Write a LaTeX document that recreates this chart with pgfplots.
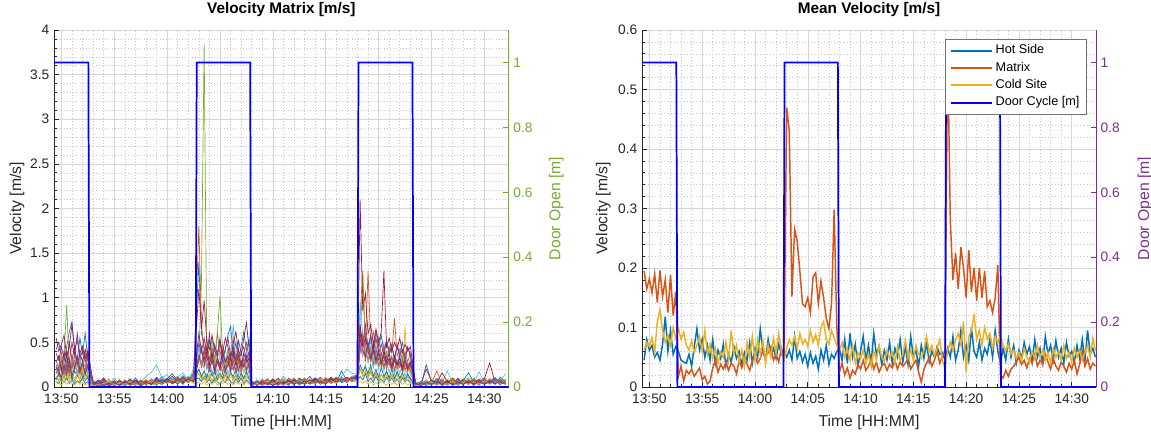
\documentclass[border=0pt]{standalone}
\usepackage{fontspec}
\setmainfont{Liberation Sans}
\usepackage{pgfplots}
\usepackage{pgfplotstable}
\pgfplotsset{compat=1.18}

\definecolor{mlc1}{RGB}{0,114,189}
\definecolor{mlc2}{RGB}{217,83,25}
\definecolor{mlc3}{RGB}{237,177,32}
\definecolor{mlc4}{RGB}{126,47,142}
\definecolor{mlc5}{RGB}{119,172,48}
\definecolor{mlc6}{RGB}{77,190,238}
\definecolor{mlc7}{RGB}{162,20,47}
\definecolor{mlgray}{RGB}{38,38,38}
\definecolor{doorblue}{RGB}{0,0,255}

% velocity of every sensor in the matrix [m/s], time in minutes after 13:50
\pgfplotstableread{
t s1 s2 s3 s4 s5 s6 s7 s8 s9 s10 s11 s12
-0.5 0.42 0.30 0.12 0.25 0.15 0.30 0.55 0.06 0.22 0.03 0.38 0.10
-0.25 0.50 0.22 0.08 0.18 0.22 0.20 0.40 0.04 0.15 0.05 0.30 0.14
0.0 0.35 0.38 0.15 0.30 0.10 0.35 0.48 0.09 0.25 0.02 0.45 0.06
0.25 0.28 0.25 0.10 0.20 0.35 0.25 0.58 0.05 0.18 0.06 0.32 0.12
0.5 0.45 0.18 0.18 0.35 0.92 0.30 0.35 0.10 0.28 0.03 0.40 0.08
0.75 0.62 0.32 0.07 0.15 0.20 0.18 0.45 0.04 0.12 0.07 0.28 0.15
1.0 0.73 0.20 0.14 0.28 0.12 0.28 0.70 0.08 0.22 0.04 0.50 0.10
1.25 0.40 0.35 0.09 0.22 0.25 0.36 0.42 0.03 0.30 0.02 0.35 0.05
1.5 0.30 0.28 0.16 0.32 0.15 0.22 0.52 0.07 0.16 0.06 0.60 0.13
1.75 0.55 0.15 0.06 0.18 0.28 0.30 0.38 0.05 0.24 0.03 0.30 0.09
2.0 0.38 0.30 0.12 0.25 0.18 0.20 0.45 0.10 0.14 0.05 0.42 0.16
2.25 0.60 0.22 0.08 0.14 0.40 0.26 0.32 0.04 0.20 0.02 0.28 0.07
2.5 0.32 0.42 0.13 0.22 0.12 0.18 0.40 0.06 0.26 0.04 0.36 0.11
3.0 0.06 0.04 0.03 0.02 0.05 0.08 0.03 0.01 0.04 0.02 0.05 0.03
3.5 0.03 0.07 0.02 0.05 0.02 0.04 0.08 0.02 0.01 0.03 0.02 0.06
4.0 0.09 0.02 0.04 0.10 0.04 0.06 0.02 0.05 0.03 0.01 0.08 0.02
4.5 0.02 0.05 0.01 0.03 0.09 0.03 0.06 0.01 0.07 0.03 0.02 0.05
5.0 0.07 0.03 0.05 0.02 0.03 0.10 0.01 0.04 0.02 0.05 0.04 0.02
5.5 0.02 0.08 0.02 0.06 0.05 0.03 0.07 0.02 0.08 0.01 0.06 0.03
6.0 0.05 0.02 0.07 0.03 0.01 0.06 0.04 0.08 0.03 0.04 0.02 0.07
6.5 0.04 0.06 0.02 0.08 0.06 0.02 0.09 0.03 0.05 0.02 0.08 0.02
7.0 0.10 0.03 0.05 0.02 0.04 0.07 0.03 0.06 0.02 0.07 0.03 0.05
7.5 0.03 0.07 0.03 0.05 0.02 0.05 0.06 0.01 0.08 0.04 0.06 0.03
8.0 0.07 0.04 0.08 0.03 0.07 0.12 0.03 0.06 0.04 0.02 0.05 0.08
8.5 0.04 0.09 0.02 0.07 0.05 0.16 0.08 0.03 0.06 0.05 0.03 0.04
9.0 0.11 0.03 0.06 0.05 0.03 0.25 0.05 0.09 0.04 0.07 0.10 0.02
9.5 0.05 0.07 0.04 0.09 0.08 0.10 0.03 0.06 0.11 0.03 0.06 0.07
10.0 0.09 0.05 0.09 0.04 0.06 0.14 0.07 0.10 0.05 0.06 0.08 0.04
10.5 0.15 0.08 0.03 0.07 0.10 0.06 0.12 0.04 0.08 0.05 0.04 0.09
11.0 0.06 0.12 0.07 0.10 0.04 0.11 0.05 0.08 0.03 0.10 0.07 0.06
11.5 0.12 0.04 0.06 0.08 0.08 0.16 0.10 0.03 0.10 0.06 0.11 0.05
12.0 0.08 0.10 0.10 0.05 0.12 0.07 0.06 0.11 0.07 0.08 0.05 0.10
12.5 0.16 0.07 0.05 0.12 0.06 0.20 0.14 0.08 0.10 0.04 0.09 0.07
13.0 1.40 1.80 0.15 0.35 0.30 0.50 1.10 0.10 0.35 0.05 0.48 0.20
13.25 0.60 0.70 0.10 0.25 1.20 0.38 0.65 0.06 0.28 0.03 0.40 0.12
13.5 0.45 0.40 0.18 0.42 3.85 0.30 0.97 0.12 0.22 0.06 0.55 0.08
13.75 0.38 0.55 0.08 0.20 0.40 0.45 0.50 0.05 0.40 0.02 0.35 0.15
14.0 0.52 0.30 0.14 0.30 0.25 0.28 0.42 0.09 0.18 0.05 0.60 0.10
14.25 0.30 0.45 0.06 0.38 0.55 0.35 0.58 0.04 0.30 0.03 0.30 0.18
14.5 0.48 0.25 0.12 0.18 0.30 0.22 0.40 0.10 0.20 0.07 0.45 0.06
14.75 0.35 0.62 0.20 0.32 0.60 0.40 0.35 0.06 0.33 0.02 0.38 0.12
15.0 0.55 0.35 0.09 0.25 1.02 0.30 0.52 0.03 0.25 0.05 0.50 0.15
15.25 0.28 0.48 0.15 0.40 0.35 0.25 0.38 0.08 0.15 0.04 0.32 0.09
15.5 0.42 0.30 0.07 0.22 0.20 0.42 0.55 0.05 0.28 0.06 0.42 0.14
15.75 0.58 0.22 0.12 0.30 0.42 0.28 0.45 0.11 0.35 0.03 0.55 0.07
16.0 0.68 0.40 0.18 0.15 0.25 0.35 0.30 0.06 0.20 0.05 0.35 0.16
16.25 0.35 0.55 0.08 0.35 0.32 0.70 0.48 0.04 0.30 0.02 0.45 0.10
16.5 0.50 0.28 0.14 0.25 0.18 0.30 0.62 0.09 0.18 0.06 0.30 0.13
16.75 0.30 0.42 0.06 0.42 0.38 0.22 0.40 0.05 0.28 0.03 0.52 0.08
17.0 0.45 0.25 0.16 0.20 0.22 0.38 0.35 0.10 0.15 0.05 0.38 0.15
17.25 0.62 0.38 0.10 0.32 0.30 0.25 0.55 0.04 0.32 0.02 0.45 0.09
17.5 0.40 0.50 0.13 0.18 0.15 0.40 0.72 0.08 0.22 0.06 0.30 0.12
17.75 0.55 0.30 0.08 0.28 0.35 0.30 0.42 0.05 0.26 0.03 0.40 0.10
18.0 0.04 0.06 0.02 0.07 0.03 0.02 0.06 0.01 0.05 0.03 0.02 0.05
18.5 0.06 0.02 0.05 0.02 0.08 0.05 0.03 0.07 0.02 0.06 0.04 0.02
19.0 0.02 0.07 0.03 0.05 0.02 0.09 0.05 0.02 0.08 0.01 0.06 0.04
19.5 0.08 0.04 0.07 0.03 0.05 0.03 0.09 0.05 0.02 0.07 0.03 0.08
20.0 0.04 0.09 0.02 0.08 0.03 0.06 0.02 0.08 0.05 0.04 0.09 0.02
20.5 0.10 0.03 0.06 0.05 0.09 0.02 0.07 0.03 0.09 0.02 0.05 0.06
21.0 0.05 0.06 0.09 0.02 0.04 0.12 0.04 0.06 0.03 0.08 0.02 0.09
21.5 0.07 0.02 0.04 0.10 0.06 0.05 0.08 0.02 0.07 0.05 0.07 0.03
22.0 0.03 0.08 0.06 0.04 0.10 0.07 0.02 0.09 0.04 0.06 0.04 0.07
22.5 0.09 0.05 0.08 0.06 0.02 0.04 0.10 0.05 0.06 0.03 0.08 0.05
23.0 0.05 0.07 0.03 0.09 0.07 0.08 0.05 0.07 0.10 0.05 0.03 0.09
23.5 0.12 0.04 0.06 0.05 0.05 0.03 0.07 0.04 0.05 0.09 0.06 0.04
24.0 0.04 0.09 0.10 0.07 0.03 0.10 0.04 0.08 0.07 0.04 0.10 0.06
24.5 0.08 0.05 0.05 0.11 0.08 0.06 0.09 0.03 0.05 0.07 0.05 0.10
25.0 0.06 0.10 0.07 0.04 0.05 0.09 0.06 0.10 0.03 0.11 0.07 0.05
25.5 0.10 0.05 0.09 0.08 0.07 0.04 0.11 0.05 0.09 0.05 0.09 0.07
26.0 0.05 0.08 0.04 0.06 0.11 0.07 0.06 0.09 0.06 0.08 0.04 0.11
26.5 0.18 0.06 0.10 0.09 0.06 0.12 0.08 0.05 0.11 0.06 0.10 0.06
27.0 0.07 0.11 0.06 0.05 0.09 0.20 0.10 0.07 0.06 0.10 0.07 0.09
27.5 0.11 0.06 0.12 0.10 0.07 0.15 0.06 0.11 0.09 0.08 0.12 0.06
28.0 0.12 0.10 0.08 0.14 0.10 0.15 0.12 0.07 0.11 0.05 0.13 0.09
28.25 0.65 0.80 0.20 0.40 0.50 0.95 2.10 0.12 0.45 0.06 0.60 0.20
28.5 0.50 1.30 0.12 0.55 1.23 0.60 0.85 0.08 0.35 0.04 0.48 0.15
28.75 0.60 0.45 0.18 0.30 0.40 0.45 1.05 0.15 0.50 0.07 0.70 0.25
29.0 0.42 1.30 0.10 0.48 0.30 0.38 0.60 0.06 0.28 0.03 0.45 0.12
29.25 0.55 0.50 0.22 0.35 0.45 0.52 0.70 0.10 0.40 0.06 0.58 0.18
29.5 0.38 0.62 0.09 0.25 0.28 0.30 0.48 0.05 0.22 0.02 0.40 0.10
29.75 0.62 0.40 0.16 0.42 0.38 0.45 0.65 0.12 0.35 0.05 0.55 0.16
30.0 0.45 0.55 0.07 0.30 0.22 0.35 0.50 0.06 0.25 0.03 0.38 0.08
30.25 0.58 0.35 0.14 0.38 0.35 0.28 0.62 0.09 0.32 0.07 0.48 0.14
30.5 0.40 0.48 0.10 0.22 0.28 0.42 1.30 0.05 0.20 0.04 0.35 0.10
30.75 0.52 0.30 0.18 0.35 0.40 0.30 0.45 0.11 0.30 0.02 0.52 0.17
31.0 0.35 0.45 0.08 0.28 0.25 0.38 0.55 0.06 0.24 0.06 0.40 0.09
31.25 0.48 0.38 0.15 0.20 0.32 0.25 0.40 0.10 0.35 0.03 0.45 0.13
31.5 0.30 0.77 0.10 0.32 0.20 0.35 0.50 0.05 0.18 0.05 0.32 0.08
31.75 0.45 0.35 0.16 0.25 0.30 0.28 0.42 0.09 0.28 0.02 0.48 0.15
32.0 0.38 0.42 0.08 0.35 0.22 0.40 0.55 0.04 0.22 0.06 0.35 0.10
32.25 0.50 0.30 0.14 0.18 0.35 0.25 0.38 0.10 0.30 0.03 0.42 0.12
32.5 0.32 0.40 0.68 0.30 0.18 0.35 0.48 0.06 0.20 0.05 0.30 0.08
32.75 0.45 0.28 0.12 0.22 0.28 0.22 0.40 0.08 0.26 0.02 0.45 0.14
33.0 0.35 0.38 0.09 0.28 0.20 0.30 0.45 0.05 0.18 0.04 0.35 0.10
33.5 0.04 0.02 0.05 0.03 0.04 0.01 0.05 0.03 0.02 0.06 0.03 0.04
34.0 0.02 0.05 0.03 0.06 0.01 0.04 0.03 0.06 0.04 0.02 0.05 0.01
34.5 0.25 0.03 0.04 0.02 0.06 0.08 0.20 0.02 0.07 0.03 0.02 0.06
35.0 0.06 0.04 0.08 0.05 0.03 0.03 0.07 0.04 0.03 0.06 0.08 0.03
35.5 0.03 0.18 0.03 0.09 0.05 0.10 0.04 0.08 0.05 0.03 0.04 0.07
36.0 0.08 0.03 0.06 0.03 0.09 0.05 0.16 0.03 0.08 0.04 0.06 0.02
36.5 0.04 0.07 0.02 0.08 0.03 0.18 0.06 0.07 0.03 0.09 0.03 0.05
37.0 0.10 0.03 0.07 0.04 0.06 0.04 0.09 0.03 0.10 0.02 0.07 0.08
37.5 0.03 0.08 0.04 0.10 0.03 0.07 0.04 0.09 0.04 0.06 0.03 0.03
38.0 0.07 0.04 0.09 0.03 0.08 0.04 0.08 0.03 0.06 0.04 0.09 0.06
38.5 0.16 0.06 0.03 0.07 0.04 0.09 0.05 0.07 0.03 0.08 0.04 0.10
39.0 0.05 0.09 0.06 0.04 0.10 0.04 0.07 0.04 0.09 0.03 0.07 0.03
39.5 0.09 0.03 0.08 0.06 0.03 0.17 0.04 0.08 0.05 0.07 0.02 0.08
40.0 0.04 0.07 0.03 0.10 0.06 0.05 0.09 0.03 0.07 0.04 0.08 0.05
40.5 0.08 0.05 0.10 0.04 0.08 0.07 0.27 0.06 0.04 0.09 0.05 0.07
41.0 0.03 0.09 0.05 0.07 0.04 0.11 0.06 0.09 0.08 0.03 0.10 0.04
41.5 0.11 0.04 0.07 0.03 0.09 0.06 0.08 0.05 0.03 0.07 0.04 0.09
42.0 0.06 0.08 0.03 0.08 0.05 0.15 0.04 0.07 0.06 0.05 0.08 0.03
}\matrixdata

% further sensors of the matrix
\pgfplotstableread{
t s13 s14 s15 s16 s17 s18
-0.5 0.20 0.28 0.08 0.15 0.12 0.22
-0.25 0.12 0.35 0.15 0.22 0.06 0.18
0.0 0.25 0.18 0.10 0.30 0.14 0.10
0.25 0.15 0.40 0.20 0.12 0.08 0.25
0.5 0.30 0.22 0.12 0.28 0.18 0.15
0.75 0.18 0.50 0.25 0.16 0.10 0.30
1.0 0.10 0.30 0.08 0.35 0.20 0.12
1.25 0.28 0.45 0.18 0.20 0.07 0.22
1.5 0.14 0.25 0.12 0.30 0.16 0.35
1.75 0.32 0.38 0.22 0.14 0.09 0.18
2.0 0.20 0.28 0.10 0.25 0.22 0.28
2.25 0.12 0.42 0.16 0.18 0.08 0.15
2.5 0.25 0.30 0.09 0.32 0.14 0.24
3.0 0.03 0.05 0.02 0.04 0.01 0.03
3.5 0.05 0.02 0.04 0.01 0.03 0.06
4.0 0.02 0.06 0.01 0.05 0.04 0.02
4.5 0.06 0.03 0.05 0.02 0.06 0.04
5.0 0.03 0.07 0.02 0.06 0.02 0.05
5.5 0.05 0.02 0.06 0.03 0.05 0.02
6.0 0.02 0.05 0.03 0.07 0.03 0.06
6.5 0.07 0.03 0.05 0.02 0.06 0.03
7.0 0.03 0.08 0.02 0.05 0.02 0.07
7.5 0.06 0.04 0.07 0.03 0.05 0.02
8.0 0.04 0.06 0.03 0.08 0.03 0.05
8.5 0.09 0.03 0.06 0.04 0.07 0.03
9.0 0.05 0.07 0.04 0.06 0.04 0.08
9.5 0.12 0.05 0.08 0.03 0.06 0.05
10.0 0.06 0.09 0.05 0.07 0.04 0.07
10.5 0.10 0.06 0.07 0.05 0.08 0.04
11.0 0.07 0.10 0.04 0.09 0.05 0.08
11.5 0.13 0.05 0.08 0.06 0.07 0.06
12.0 0.08 0.09 0.06 0.10 0.05 0.09
12.5 0.11 0.07 0.09 0.07 0.10 0.06
13.0 0.45 0.60 0.20 0.35 0.15 0.30
13.25 0.25 0.40 0.12 0.22 0.08 0.45
13.5 0.35 0.30 0.18 0.40 0.12 0.25
13.75 0.20 0.45 0.10 0.28 0.06 0.35
14.0 0.30 0.25 0.22 0.18 0.14 0.20
14.25 0.15 0.38 0.12 0.32 0.08 0.30
14.5 0.28 0.20 0.18 0.22 0.12 0.15
14.75 0.12 0.32 0.08 0.30 0.06 0.28
15.0 0.25 0.22 0.15 0.18 0.14 0.20
15.25 0.18 0.40 0.10 0.25 0.07 0.32
15.5 0.32 0.28 0.20 0.15 0.12 0.18
15.75 0.14 0.35 0.09 0.30 0.08 0.25
16.0 0.26 0.20 0.16 0.22 0.15 0.35
16.25 0.18 0.42 0.12 0.28 0.06 0.20
16.5 0.30 0.25 0.20 0.15 0.11 0.28
16.75 0.12 0.35 0.08 0.32 0.07 0.18
17.0 0.25 0.22 0.15 0.20 0.13 0.30
17.25 0.16 0.38 0.10 0.26 0.06 0.22
17.5 0.28 0.28 0.18 0.18 0.12 0.35
17.75 0.14 0.32 0.09 0.28 0.08 0.20
18.0 0.03 0.04 0.02 0.05 0.01 0.03
18.5 0.05 0.02 0.04 0.02 0.04 0.06
19.0 0.02 0.06 0.03 0.06 0.02 0.03
19.5 0.06 0.03 0.05 0.03 0.05 0.05
20.0 0.04 0.07 0.02 0.05 0.03 0.02
20.5 0.07 0.03 0.06 0.02 0.06 0.05
21.0 0.03 0.06 0.03 0.07 0.02 0.04
21.5 0.06 0.04 0.07 0.03 0.05 0.07
22.0 0.04 0.08 0.04 0.06 0.03 0.03
22.5 0.08 0.03 0.06 0.04 0.07 0.06
23.0 0.05 0.07 0.03 0.08 0.04 0.04
23.5 0.07 0.04 0.08 0.03 0.06 0.08
24.0 0.04 0.09 0.05 0.07 0.04 0.05
24.5 0.09 0.05 0.07 0.05 0.08 0.07
25.0 0.05 0.08 0.04 0.09 0.05 0.04
25.5 0.08 0.06 0.09 0.04 0.07 0.08
26.0 0.06 0.10 0.05 0.08 0.05 0.06
26.5 0.10 0.06 0.08 0.06 0.09 0.09
27.0 0.07 0.11 0.06 0.10 0.06 0.07
27.5 0.12 0.08 0.10 0.07 0.09 0.10
28.0 0.10 0.12 0.08 0.10 0.07 0.11
28.25 0.50 0.70 0.25 0.40 0.20 0.55
28.5 0.35 0.45 0.18 0.60 0.12 0.40
28.75 0.45 0.55 0.22 0.30 0.18 0.35
29.0 0.28 0.40 0.15 0.45 0.10 0.50
29.25 0.40 0.30 0.25 0.28 0.16 0.32
29.5 0.22 0.48 0.12 0.40 0.08 0.42
29.75 0.35 0.28 0.20 0.25 0.15 0.30
30.0 0.20 0.42 0.10 0.38 0.09 0.38
30.25 0.32 0.25 0.22 0.22 0.14 0.28
30.5 0.18 0.40 0.12 0.35 0.07 0.35
30.75 0.30 0.28 0.18 0.20 0.13 0.25
31.0 0.16 0.38 0.10 0.32 0.08 0.32
31.25 0.28 0.22 0.20 0.18 0.12 0.22
31.5 0.14 0.35 0.09 0.30 0.07 0.30
31.75 0.26 0.25 0.18 0.20 0.14 0.24
32.0 0.15 0.32 0.10 0.28 0.06 0.28
32.25 0.25 0.22 0.16 0.16 0.12 0.20
32.5 0.12 0.30 0.08 0.26 0.07 0.30
32.75 0.22 0.20 0.15 0.18 0.11 0.22
33.0 0.14 0.28 0.09 0.24 0.06 0.26
33.5 0.03 0.04 0.02 0.03 0.01 0.04
34.0 0.05 0.02 0.04 0.02 0.03 0.02
34.5 0.02 0.05 0.02 0.05 0.02 0.05
35.0 0.06 0.03 0.05 0.03 0.05 0.03
35.5 0.03 0.06 0.02 0.06 0.02 0.06
36.0 0.05 0.03 0.06 0.02 0.05 0.03
36.5 0.02 0.07 0.03 0.05 0.03 0.06
37.0 0.06 0.03 0.05 0.03 0.06 0.02
37.5 0.03 0.06 0.02 0.07 0.02 0.05
38.0 0.07 0.03 0.06 0.03 0.05 0.03
38.5 0.03 0.07 0.03 0.06 0.03 0.07
39.0 0.06 0.04 0.07 0.02 0.06 0.03
39.5 0.04 0.08 0.03 0.06 0.03 0.06
40.0 0.07 0.03 0.06 0.04 0.07 0.03
40.5 0.03 0.06 0.04 0.07 0.03 0.08
41.0 0.08 0.04 0.07 0.03 0.06 0.04
41.5 0.04 0.07 0.03 0.08 0.04 0.06
42.0 0.06 0.05 0.06 0.04 0.07 0.03
}\matrixdatab

% mean velocities [m/s]
\pgfplotstableread{
t hot mat cold
-0.5 0.045 0.195 0.062
-0.25 0.080 0.165 0.075
0.0 0.062 0.182 0.068
0.25 0.070 0.158 0.083
0.5 0.050 0.190 0.058
0.75 0.058 0.142 0.110
1.0 0.045 0.196 0.130
1.25 0.072 0.152 0.095
1.5 0.118 0.180 0.075
1.75 0.060 0.125 0.088
2.0 0.095 0.188 0.070
2.25 0.055 0.120 0.100
2.5 0.068 0.160 0.082
2.75 0.060 0.018 0.098
3.0 0.045 0.035 0.080
3.25 0.042 0.010 0.092
3.5 0.040 0.028 0.070
3.75 0.055 0.022 0.062
4.0 0.035 0.030 0.078
4.25 0.068 0.018 0.058
4.5 0.098 0.025 0.070
4.75 0.062 0.032 0.085
5.0 0.080 0.012 0.060
5.25 0.050 0.018 0.095
5.5 0.070 0.005 0.055
5.75 0.045 0.010 0.072
6.0 0.080 0.032 0.048
6.25 0.040 0.045 0.065
6.5 0.062 0.025 0.040
6.75 0.048 0.038 0.058
7.0 0.072 0.030 0.050
7.25 0.035 0.042 0.075
7.5 0.055 0.028 0.045
7.75 0.042 0.040 0.095
8.0 0.068 0.035 0.055
8.25 0.048 0.022 0.070
8.5 0.060 0.045 0.042
8.75 0.038 0.032 0.062
9.0 0.058 0.048 0.035
9.25 0.045 0.038 0.075
9.5 0.075 0.028 0.050
9.75 0.040 0.045 0.085
10.0 0.065 0.052 0.045
10.25 0.050 0.040 0.080
10.5 0.098 0.048 0.055
10.75 0.060 0.062 0.078
11.0 0.045 0.050 0.040
11.25 0.080 0.058 0.070
11.5 0.055 0.068 0.050
11.75 0.065 0.045 0.082
12.0 0.048 0.055 0.058
12.25 0.072 0.042 0.090
12.5 0.055 0.065 0.060
12.75 0.060 0.050 0.045
13.0 0.050 0.470 0.065
13.25 0.062 0.430 0.080
13.5 0.045 0.152 0.070
13.75 0.085 0.265 0.085
14.0 0.048 0.245 0.065
14.25 0.060 0.195 0.090
14.5 0.042 0.140 0.072
14.75 0.055 0.135 0.080
15.0 0.035 0.150 0.068
15.25 0.058 0.125 0.095
15.5 0.040 0.185 0.075
15.75 0.052 0.192 0.088
16.0 0.030 0.140 0.070
16.25 0.062 0.178 0.100
16.5 0.045 0.150 0.110
16.75 0.070 0.115 0.080
17.0 0.038 0.098 0.072
17.25 0.055 0.140 0.095
17.5 0.048 0.298 0.082
17.75 0.060 0.100 0.070
18.0 0.065 0.025 0.060
18.25 0.045 0.040 0.075
18.5 0.080 0.020 0.050
18.75 0.040 0.032 0.065
19.0 0.090 0.015 0.045
19.25 0.050 0.028 0.070
19.5 0.072 0.022 0.040
19.75 0.035 0.038 0.058
20.0 0.060 0.030 0.048
20.25 0.085 0.045 0.062
20.5 0.045 0.028 0.040
20.75 0.070 0.035 0.055
21.0 0.040 0.048 0.035
21.25 0.090 0.030 0.060
21.5 0.055 0.042 0.045
21.75 0.068 0.025 0.070
22.0 0.038 0.035 0.050
22.25 0.062 0.040 0.042
22.5 0.045 0.028 0.062
22.75 0.075 0.038 0.048
23.0 0.040 0.032 0.058
23.25 0.065 0.045 0.040
23.5 0.050 0.030 0.068
23.75 0.080 0.042 0.045
24.0 0.042 0.035 0.055
24.25 0.068 0.040 0.078
24.5 0.038 0.048 0.050
24.75 0.085 0.030 0.062
25.0 0.050 0.038 0.045
25.25 0.062 0.045 0.070
25.5 0.035 0.025 0.055
25.75 0.070 0.008 0.048
26.0 0.048 0.030 0.062
26.25 0.075 0.040 0.085
26.5 0.042 0.050 0.058
26.75 0.060 0.035 0.070
27.0 0.050 0.045 0.052
27.25 0.068 0.060 0.065
27.5 0.055 0.040 0.080
27.75 0.058 0.052 0.045
28.0 0.045 0.060 0.030
28.25 0.065 0.570 0.062
28.5 0.050 0.280 0.075
28.75 0.085 0.180 0.060
29.0 0.045 0.225 0.080
29.25 0.062 0.165 0.090
29.5 0.095 0.235 0.070
29.75 0.050 0.200 0.110
30.0 0.070 0.150 0.025
30.25 0.045 0.230 0.085
30.5 0.100 0.160 0.095
30.75 0.060 0.200 0.120
31.0 0.050 0.145 0.080
31.25 0.075 0.200 0.095
31.5 0.045 0.150 0.070
31.75 0.065 0.195 0.100
32.0 0.055 0.135 0.080
32.25 0.080 0.145 0.090
32.5 0.050 0.125 0.065
32.75 0.095 0.150 0.085
33.0 0.060 0.205 0.075
33.25 0.040 0.020 0.085
33.5 0.065 0.015 0.070
33.75 0.045 0.028 0.060
34.0 0.080 0.018 0.072
34.25 0.050 0.030 0.055
34.5 0.070 0.035 0.062
34.75 0.040 0.042 0.048
35.0 0.062 0.050 0.058
35.25 0.048 0.038 0.045
35.5 0.075 0.045 0.065
35.75 0.055 0.032 0.050
36.0 0.068 0.048 0.042
36.25 0.042 0.040 0.060
36.5 0.080 0.055 0.048
36.75 0.050 0.035 0.070
37.0 0.065 0.045 0.050
37.25 0.040 0.038 0.062
37.5 0.085 0.055 0.045
37.75 0.055 0.042 0.058
38.0 0.070 0.030 0.040
38.25 0.045 0.048 0.065
38.5 0.078 0.035 0.050
38.75 0.050 0.028 0.060
39.0 0.065 0.042 0.045
39.25 0.040 0.035 0.070
39.5 0.075 0.025 0.048
39.75 0.052 0.040 0.058
40.0 0.060 0.030 0.042
40.25 0.042 0.045 0.065
40.5 0.070 0.022 0.050
40.75 0.048 0.038 0.062
41.0 0.080 0.060 0.045
41.25 0.045 0.035 0.058
41.5 0.095 0.048 0.070
41.75 0.055 0.030 0.050
42.0 0.065 0.040 0.082
42.25 0.050 0.035 0.060
}\meandata

\pgfplotsset{
  mlbase/.style={
    scale only axis, width=341pt, height=267.75pt,
    anchor=south west,
    xmin=-0.7, xmax=42.3,
    xtick={0,5,...,40},
    xticklabels={13:50,13:55,14:00,14:05,14:10,14:15,14:20,14:25,14:30},
    tick align=inside,
    major tick length=4pt, minor tick length=2pt,
    /pgf/number format/assume math mode=true,
    tick label style={font=\fontsize{10.3}{12}\selectfont, text=mlgray},
    xticklabel style={yshift=-2pt},
    axis line style={mlgray, line width=0.5pt},
    tick style={mlgray, line width=0.5pt},
  },
  mlleft/.style={
    mlbase,
    axis x line*=bottom, axis y line*=left,
    minor x tick num=4, minor y tick num=4,
    grid=both,
    major grid style={black!16, line width=0.4pt},
    minor grid style={black!22, line width=0.4pt, dotted},
    xlabel={Time [HH:MM]},
    ylabel={Velocity [m/s]},
    every axis x label/.style={at={(axis description cs:0.5,-0.099)}, anchor=center,
      font=\fontsize{11.8}{13}\selectfont, text=mlgray},
    every axis y label/.style={at={(axis description cs:#1,0.5)}, rotate=90, anchor=center,
      font=\fontsize{11.8}{13}\selectfont, text=mlgray},
    title style={at={(axis description cs:0.5,1.036)}, anchor=center,
      font=\bfseries\fontsize{11.5}{13}\selectfont},
  },
  mlright/.style={
    mlbase,
    axis x line=none, axis y line*=right,
    ymin=0, ymax=1.1, ytick={0,0.2,0.4,0.6,0.8,1},
    ylabel={Door Open [m]},
    every axis y label/.style={at={(axis description cs:#1,0.5)}, rotate=90, anchor=center,
      font=\fontsize{11.8}{13}\selectfont},
  },
}

\begin{document}
\begin{tikzpicture}
\useasboundingbox (0,0) rectangle (863.25pt,327.75pt);

% ---------- left: velocity matrix ----------
\begin{axis}[mlleft=-0.081, at={(40.5pt,37.5pt)},
    ymin=0, ymax=4, ytick={0,0.5,1,1.5,2,2.5,3,3.5,4},
    title={Velocity Matrix [m/s]},
    cycle list={{mlc1},{mlc2},{mlc3},{mlc4},{mlc5},{mlc6},{mlc7}},
]
\pgfplotsinvokeforeach{1,...,12}{
  \addplot+[line width=0.5pt, no markers] table[x=t, y=s#1] {\matrixdata};
}
\pgfplotsinvokeforeach{13,...,18}{
  \addplot+[line width=0.5pt, no markers] table[x=t, y=s#1] {\matrixdatab};
}
\end{axis}
\begin{axis}[mlright=1.105, at={(40.5pt,37.5pt)},
    y axis line style={mlc5}, ytick style={mlc5},
    yticklabel style={text=mlc5}, ylabel style={text=mlc5},
]
\addplot[doorblue, line width=1.3pt] coordinates {
  (-0.7,1) (2.55,1) (2.65,0) (12.7,0) (12.8,1) (17.85,1) (17.95,0)
  (28.0,0) (28.1,1) (33.2,1) (33.3,0) (42.3,0)};
\end{axis}

% ---------- right: mean velocity ----------
\begin{axis}[mlleft=-0.085, at={(481.5pt,37.5pt)}, width=340.5pt,
    ymin=0, ymax=0.6, ytick={0,0.1,0.2,0.3,0.4,0.5,0.6},
    title={Mean Velocity [m/s]},
]
\addplot[mlc1, line width=1.1pt] table[x=t, y=hot] {\meandata};
\addplot[mlc2, line width=1.1pt] table[x=t, y=mat] {\meandata};
\addplot[mlc3, line width=1.1pt] table[x=t, y=cold] {\meandata};
\end{axis}
\begin{axis}[mlright=1.108, at={(481.5pt,37.5pt)}, width=340.5pt,
    y axis line style={mlc4}, ytick style={mlc4},
    yticklabel style={text=mlc4}, ylabel style={text=mlc4},
    legend cell align=left,
    legend image code/.code={\draw[#1, line width=1.5pt] (0pt,0pt) -- (31pt,0pt);},
    legend style={at={(rel axis cs:0.979,0.975)}, anchor=north east,
      draw=black!55, line width=0.5pt, fill=white,
      font=\fontsize{9.5}{11}\selectfont, inner xsep=3pt, inner ysep=2pt,
      nodes={text height=7pt, text depth=2pt, inner ysep=2pt}},
]
\addlegendimage{mlc1}\addlegendentry{Hot Side}
\addlegendimage{mlc2}\addlegendentry{Matrix}
\addlegendimage{mlc3}\addlegendentry{Cold Site}
\addplot[doorblue, line width=1.3pt] coordinates {
  (-0.7,1) (2.55,1) (2.65,0) (12.7,0) (12.8,1) (17.85,1) (17.95,0)
  (28.0,0) (28.1,1) (33.2,1) (33.3,0) (42.3,0)};
\addlegendentry{Door Cycle [m]}
\end{axis}
\end{tikzpicture}
\end{document}
